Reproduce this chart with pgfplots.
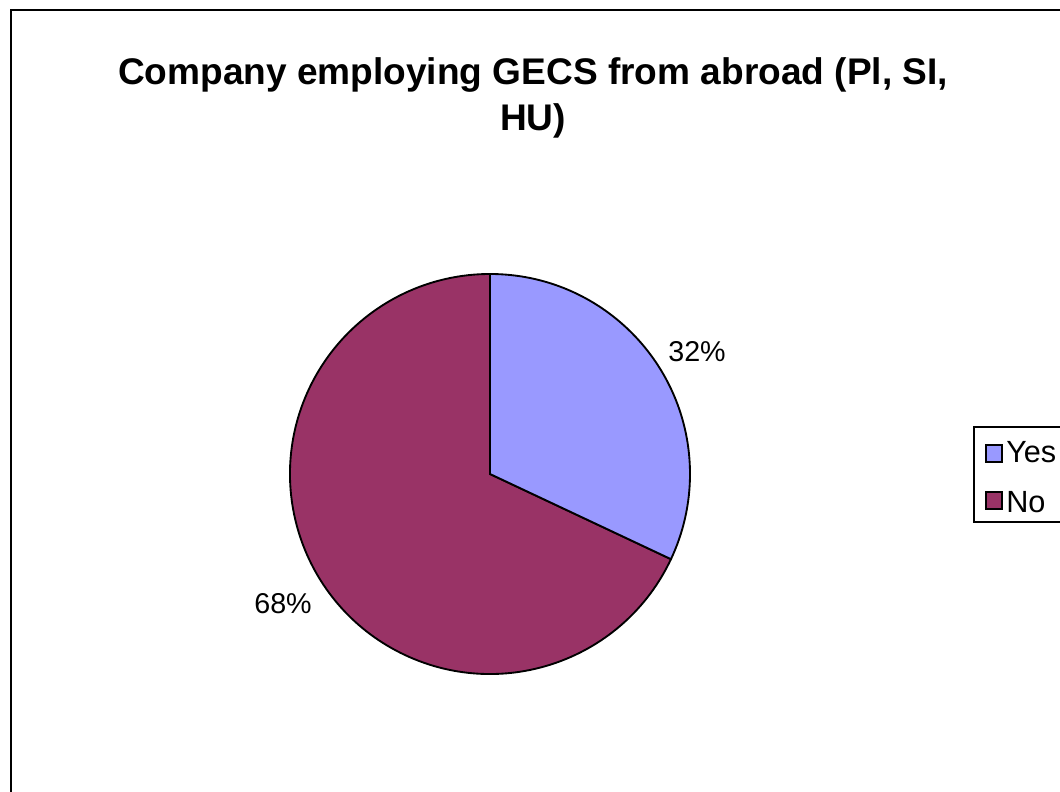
\documentclass[border=0pt]{standalone}
\usepackage{pgfplots}
\pgfplotsset{compat=1.18}
\usepackage{pgfplotstable}
\usepackage{fontspec}
\setmainfont{Liberation Sans}
\definecolor{yescol}{HTML}{9999FF}
\definecolor{nocol}{HTML}{993366}

\pgfplotstableread{
label value
Yes 32
No 68
}\piedata

\begin{document}
\begin{tikzpicture}
\pgfplotstablegetelem{0}{value}\of\piedata \let\vYes\pgfplotsretval
\pgfplotstablegetelem{1}{value}\of\piedata \let\vNo\pgfplotsretval
\pgfmathsetmacro{\aYes}{90-3.6*\vYes}
\pgfmathsetmacro{\aNo}{\aYes-3.6*\vNo}
\begin{axis}[x=0.75pt,y=0.75pt,xmin=0,xmax=1060,ymin=0,ymax=792,
  hide axis,clip=false,scale only axis]
% outer border
\draw[line width=1.3pt] (axis cs:11,-30) |- (axis cs:1090,782);
% title
\node[align=center,font=\fontsize{27.8}{35}\selectfont\bfseries] at (axis cs:533,694)
  {Company employing GECS from abroad (Pl, SI,\\HU)};
% pie
\filldraw[fill=nocol,draw=black,line width=1.4pt] (axis cs:490,318) -- ++(\aYes:150pt)
  arc[start angle=\aYes,end angle=\aNo,radius=150pt] -- cycle;
\filldraw[fill=yescol,draw=black,line width=1.4pt] (axis cs:490,318) -- ++(90:150pt)
  arc[start angle=90,end angle=\aYes,radius=150pt] -- cycle;
% labels
\node[font=\fontsize{21.5}{24}\selectfont] at (axis cs:697,440) {\vYes\%};
\node[font=\fontsize{21.5}{24}\selectfont] at (axis cs:283,188) {\vNo\%};
% legend
\draw[line width=0.8pt,fill=white] (axis cs:974,270) rectangle (axis cs:1090,365);
\filldraw[fill=yescol,draw=black,line width=1.2pt] (axis cs:986,330) rectangle (axis cs:1002,347);
\filldraw[fill=nocol,draw=black,line width=1.2pt] (axis cs:986,283) rectangle (axis cs:1002,300);
\node[anchor=west,inner sep=0pt,font=\fontsize{23}{26}\selectfont] at (axis cs:1006,340) {Yes};
\node[anchor=west,inner sep=0pt,font=\fontsize{23}{26}\selectfont] at (axis cs:1006,290) {No};
\end{axis}
\pgfresetboundingbox
\path (current axis.south west) rectangle (current axis.north east);
\end{tikzpicture}
\end{document}
